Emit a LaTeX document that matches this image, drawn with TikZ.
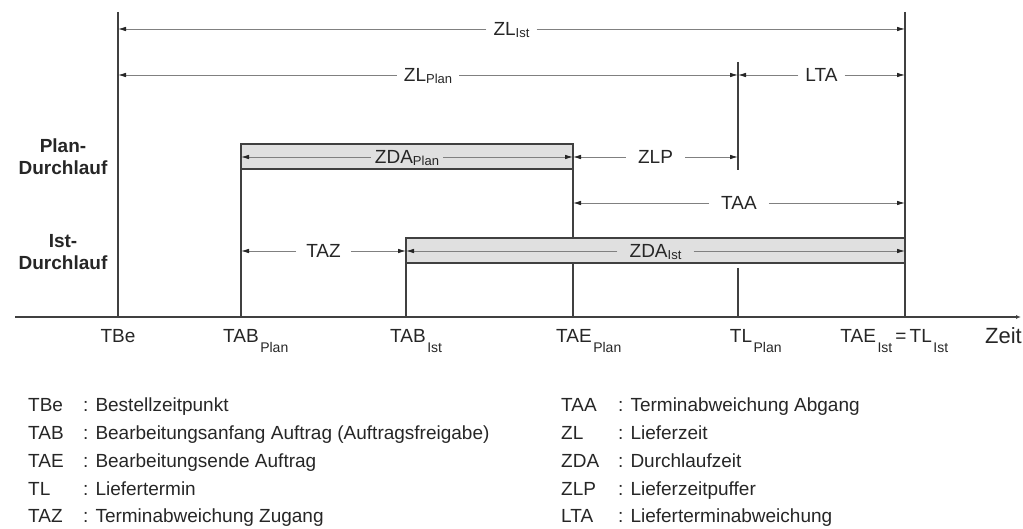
\documentclass[tikz,border=0pt]{standalone}
\usepackage{fontspec}
\setmainfont{Liberation Sans}
\usetikzlibrary{arrows.meta,calc}

\newcommand{\lbl}{\fontsize{19}{22}\selectfont}
\newcommand{\sub}[1]{\raisebox{-1.5pt}{\fontsize{13}{13}\selectfont #1}}
\newcommand{\axsub}[1]{\kern1.5pt\raisebox{-10pt}{\fontsize{14}{14}\selectfont #1}}

\tikzset{
  vline/.style={draw=black!75, line width=1.8pt},
  dim/.style={draw=black!50, line width=0.8pt, -{Latex[length=8pt,width=4.5pt,color=black!85]}},
  dimlbl/.style={font=\lbl, text=black!85, inner xsep=7pt, inner ysep=0pt, text height=14pt, text depth=0pt},
  runbox/.style={draw=black!75, line width=1.5pt, fill=black!12},
  runlbl/.style={font=\lbl\bfseries, text=black!85, align=center},
  axlbl/.style={font=\lbl, text=black!85, anchor=base, inner sep=0pt},
  lgitem/.style={font=\lbl, text=black!85, anchor=base west, inner sep=0pt},
}

\begin{document}
\begin{tikzpicture}[x=1pt,y=-1pt]
    \useasboundingbox (0,0) rectangle (1023,529);

    % Points on the time axis
    \coordinate (TBe)  at (118,317);
    \coordinate (TABp) at (241,317);
    \coordinate (TABi) at (406,317);
    \coordinate (TAEp) at (573,317);
    \coordinate (TLp)  at (738,317);
    \coordinate (TAEi) at (905,317);
    \coordinate (t0) at (15,317);
    \coordinate (t1) at (1021,317);

    % Upper ends of the vertical lines
    \coordinate (TBe-top)  at (118,12);
    \coordinate (TABp-top) at (241,144);
    \coordinate (TABi-top) at (406,238);
    \coordinate (TAEp-top) at (573,144);
    \coordinate (TLp-top)  at (738,62);
    \coordinate (TLp-mid)  at (738,170);
    \coordinate (TLp-low)  at (738,268);
    \coordinate (TAEi-top) at (905,12);

    % Vertical lines
    \draw[vline] (TBe-top) -- (TBe);
    \draw[vline] (TABp-top) -- (TABp);
    \draw[vline] (TABi-top) -- (TABi);
    \draw[vline] (TAEp-top) -- (TAEp);
    \draw[vline] (TLp-top) -- (TLp-mid);
    \draw[vline] (TLp-low) -- (TLp);
    \draw[vline] (TAEi-top) -- (TAEi);

    % Time axis
    \draw[vline, line width=2.2pt, -{Latex[length=5pt,width=4pt]}] (t0) -- (t1);

    % Run boxes (plan and actual)
    \draw[runbox] (241,144) rectangle (573,169);
    \draw[runbox] (406,238) rectangle (905,263);

    % Run labels
    \node[runlbl] (plan) at (63,157) {Plan-\\Durchlauf};
    \node[runlbl] (ist)  at (63,252) {Ist-\\Durchlauf};

    % ZL Ist
    \coordinate (zli-a) at (118,29);
    \coordinate (zli-b) at (905,29);
    \node[dimlbl] (zli) at ($(zli-a)!.5!(zli-b)$) {ZL\sub{Ist}};
    \draw[dim] (zli) -- (zli-a);
    \draw[dim] (zli) -- (zli-b);

    % ZL Plan and LTA
    \coordinate (zlp-a) at (118,75);
    \coordinate (zlp-b) at (738,75);
    \coordinate (lta-b) at (905,75);
    \node[dimlbl] (zlp) at ($(zlp-a)!.5!(zlp-b)$) {ZL\sub{Plan}};
    \draw[dim] (zlp) -- (zlp-a);
    \draw[dim] (zlp) -- (zlp-b);
    \node[dimlbl] (lta) at ($(zlp-b)!.5!(lta-b)$) {LTA};
    \draw[dim] (lta) -- (zlp-b);
    \draw[dim] (lta) -- (lta-b);

    % ZDA Plan and ZLP
    \coordinate (zdap-a) at (241,157);
    \coordinate (zdap-b) at (573,157);
    \coordinate (zlpf-b) at (738,157);
    \node[dimlbl, inner xsep=4pt] (zdap) at ($(zdap-a)!.5!(zdap-b)$) {ZDA\sub{Plan}};
    \draw[dim] (zdap) -- (zdap-a);
    \draw[dim] (zdap) -- (zdap-b);
    \node[dimlbl, inner xsep=12pt] (zlpf) at ($(zdap-b)!.5!(zlpf-b)$) {ZLP};
    \draw[dim] (zlpf) -- (zdap-b);
    \draw[dim] (zlpf) -- (zlpf-b);

    % TAA
    \coordinate (taa-a) at (573,203);
    \coordinate (taa-b) at (905,203);
    \node[dimlbl, inner xsep=12pt] (taa) at ($(taa-a)!.5!(taa-b)$) {TAA};
    \draw[dim] (taa) -- (taa-a);
    \draw[dim] (taa) -- (taa-b);

    % TAZ and ZDA Ist
    \coordinate (taz-a) at (241,251);
    \coordinate (taz-b) at (406,251);
    \coordinate (zdai-b) at (905,251);
    \node[dimlbl, inner xsep=10pt] (taz) at ($(taz-a)!.5!(taz-b)$) {TAZ};
    \draw[dim] (taz) -- (taz-a);
    \draw[dim] (taz) -- (taz-b);
    \node[dimlbl, inner xsep=12pt] (zdai) at ($(taz-b)!.5!(zdai-b)$) {ZDA\sub{Ist}};
    \draw[dim] (zdai) -- (taz-b);
    \draw[dim] (zdai) -- (zdai-b);

    % Axis labels
    \node[axlbl] (l-tbe)  at (118,342) {TBe};
    \node[axlbl] (l-tabp) at (241,342) {TAB\rlap{\axsub{Plan}}};
    \node[axlbl] (l-tabi) at (408,342) {TAB\rlap{\axsub{Ist}}};
    \node[axlbl] (l-taep) at (574,342) {TAE\rlap{\axsub{Plan}}};
    \node[axlbl] (l-tlp)  at (741,342) {TL\rlap{\axsub{Plan}}};
    \node[axlbl] (l-taei) at (901,342) {\llap{TAE\axsub{Ist}\,}=\rlap{\,TL\axsub{Ist}}};
    \node[axlbl, anchor=base east, font=\fontsize{22}{24}\selectfont] (zeit) at (1022,344) {Zeit};

    % Legend, left column
    \node[lgitem] (lg-tbe) at (28,411) {TBe};
    \node[lgitem] (lg-tbe-t) at (83,411) {: Bestellzeitpunkt};
    \node[lgitem] (lg-tab) at (28,439) {TAB};
    \node[lgitem] (lg-tab-t) at (83,439) {: Bearbeitungsanfang Auftrag (Auftragsfreigabe)};
    \node[lgitem] (lg-tae) at (28,467) {TAE};
    \node[lgitem] (lg-tae-t) at (83,467) {: Bearbeitungsende Auftrag};
    \node[lgitem] (lg-tl) at (28,495) {TL};
    \node[lgitem] (lg-tl-t) at (83,495) {: Liefertermin};
    \node[lgitem] (lg-taz) at (28,522) {TAZ};
    \node[lgitem] (lg-taz-t) at (83,522) {: Terminabweichung Zugang};

    % Legend, right column
    \node[lgitem] (lg-taa) at (561,411) {TAA};
    \node[lgitem] (lg-taa-t) at (618,411) {: Terminabweichung Abgang};
    \node[lgitem] (lg-zl) at (561,439) {ZL};
    \node[lgitem] (lg-zl-t) at (618,439) {: Lieferzeit};
    \node[lgitem] (lg-zda) at (561,467) {ZDA};
    \node[lgitem] (lg-zda-t) at (618,467) {: Durchlaufzeit};
    \node[lgitem] (lg-zlp) at (561,495) {ZLP};
    \node[lgitem] (lg-zlp-t) at (618,495) {: Lieferzeitpuffer};
    \node[lgitem] (lg-lta) at (561,522) {LTA};
    \node[lgitem] (lg-lta-t) at (618,522) {: Lieferterminabweichung};
\end{tikzpicture}
\end{document}
